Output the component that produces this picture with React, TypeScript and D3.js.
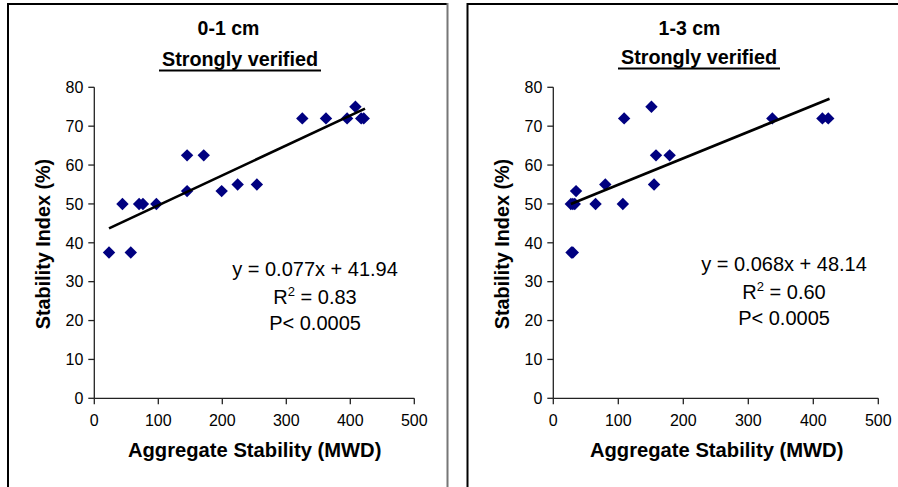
import React from "react";
import * as d3 from "d3";

// ---- Data ----
const leftX = [23, 44, 57, 70, 76, 97, 145, 145, 171, 199, 224, 254, 325, 362, 395, 408, 417, 421];
const leftY = [37.5, 50, 37.5, 50, 50, 50, 53.3, 62.5, 62.5, 53.3, 55, 55, 72, 72, 72, 75, 72, 72];
const rightX = [28, 30, 27, 30, 33, 35, 65, 80, 107, 109, 151, 155, 158, 179, 337, 414, 423];
const rightY = [37.5, 37.5, 50, 50, 50, 53.3, 50, 55, 50, 72, 75, 55, 62.5, 62.5, 72, 72, 72];

const panelTitles = ["0-1 cm", "1-3 cm"];
const subtitle = "Strongly verified";
const slopes = [0.077, 0.068];
const intercepts = [41.94, 48.14];
const equations = ["y = 0.077x + 41.94", "y = 0.068x + 48.14"];
const r2Values = ["0.83", "0.60"];
const pText = "P< 0.0005";
const xTicks = [0, 100, 200, 300, 400, 500];
const yTicks = [0, 10, 20, 30, 40, 50, 60, 70, 80];
const xLabel = "Aggregate Stability (MWD)";
const yLabel = "Stability Index (%)";

const FONT = "'Liberation Sans', Arial, Helvetica, sans-serif";

type PanelProps = {
  xs: number[];
  ys: number[];
  idx: number;
  x0: number;
  x1: number;
  titleX: number;
  subX: number;
  subY: number;
  xLabelX: number;
  yLabelX: number;
  eqX: number;
  eqY: number;
};

function Panel(p: PanelProps) {
  const x = d3.scaleLinear().domain([0, 500]).range([p.x0, p.x1]);
  const y = d3.scaleLinear().domain([0, 80]).range([398.3, 87.3]);
  const r = 6.2;
  const diamond = (cx: number, cy: number) =>
    `M${cx},${cy - r}L${cx + r},${cy}L${cx},${cy + r}L${cx - r},${cy}Z`;
  const xmin = d3.min(p.xs) as number;
  const xmax = (d3.max(p.xs) as number) + 2;
  const line = d3
    .line<number>()
    .x((d) => x(d))
    .y((d) => y(slopes[p.idx] * d + intercepts[p.idx]));
  const subW = 162;
  return (
    <g>
      <text x={p.titleX} y={35} textAnchor="middle" fontFamily={FONT} fontWeight="bold" fontSize={19.5}>
        {panelTitles[p.idx]}
      </text>
      <text x={p.subX} y={p.subY} textAnchor="middle" fontFamily={FONT} fontWeight="bold" fontSize={19.8}>
        {subtitle}
      </text>
      <line x1={p.subX - subW / 2} x2={p.subX + subW / 2} y1={p.subY + 4.5} y2={p.subY + 4.5} stroke="#000" strokeWidth={2} />
      <line x1={x(0)} x2={x(0)} y1={y(0)} y2={y(80)} stroke="#222" strokeWidth={1.3} />
      <line x1={x(0)} x2={x(500)} y1={y(0)} y2={y(0)} stroke="#222" strokeWidth={1.3} />
      {yTicks.map((t) => (
        <g key={"y" + t}>
          <line x1={x(0) - 6} x2={x(0)} y1={y(t)} y2={y(t)} stroke="#222" strokeWidth={1.3} />
          <text x={x(0) - 11} y={y(t)} dy="0.36em" textAnchor="end" fontFamily={FONT} fontSize={16}>
            {t}
          </text>
        </g>
      ))}
      {xTicks.map((t) => (
        <g key={"x" + t}>
          <line x1={x(t)} x2={x(t)} y1={y(0)} y2={y(0) + 6} stroke="#222" strokeWidth={1.3} />
          <text x={x(t)} y={426} textAnchor="middle" fontFamily={FONT} fontSize={16}>
            {t}
          </text>
        </g>
      ))}
      <text x={p.xLabelX} y={457} textAnchor="middle" fontFamily={FONT} fontWeight="bold" fontSize={20.2}>
        {xLabel}
      </text>
      <text
        transform={`translate(${p.yLabelX},244) rotate(-90)`}
        textAnchor="middle"
        fontFamily={FONT}
        fontWeight="bold"
        fontSize={19.8}
      >
        {yLabel}
      </text>
      {p.xs.map((v, i) => (
        <path key={i} d={diamond(x(v), y(p.ys[i]))} fill="#000080" />
      ))}
      <path d={line([xmin, xmax]) as string} stroke="#000" strokeWidth={2.7} fill="none" />
      <g fontFamily={FONT} fontSize={20} textAnchor="middle">
        <text x={p.eqX} y={p.eqY}>{equations[p.idx]}</text>
        <text x={p.eqX} y={p.eqY + 28}>
          R<tspan fontSize={13} dy={-8}>2</tspan>
          <tspan dy={8}>{" = " + r2Values[p.idx]}</tspan>
        </text>
        <text x={p.eqX} y={p.eqY + 54}>{pText}</text>
      </g>
    </g>
  );
}

export default function App() {
  return (
    <svg
      width={898}
      height={487}
      style={{ position: "absolute", left: 0, top: 0, background: "#fff" }}
    >
      <rect x={0} y={0} width={898} height={487} fill="#fff" />
      <path d="M8,490 L8,4 L447,4" stroke="#000" strokeWidth={2} fill="none" />
      <line x1={447.5} x2={447.5} y1={3} y2={490} stroke="#777" strokeWidth={2} />
      <path d="M467.5,490 L467.5,4 L900,4" stroke="#000" strokeWidth={2} fill="none" />
      <Panel
        xs={leftX}
        ys={leftY}
        idx={0}
        x0={94.3}
        x1={414.3}
        titleX={228.5}
        subX={240}
        subY={66}
        xLabelX={254.7}
        yLabelX={50}
        eqX={315}
        eqY={276}
      />
      <Panel
        xs={rightX}
        ys={rightY}
        idx={1}
        x0={553.3}
        x1={878.3}
        titleX={689.5}
        subX={699}
        subY={64}
        xLabelX={716.7}
        yLabelX={509}
        eqX={784}
        eqY={271}
      />
    </svg>
  );
}
